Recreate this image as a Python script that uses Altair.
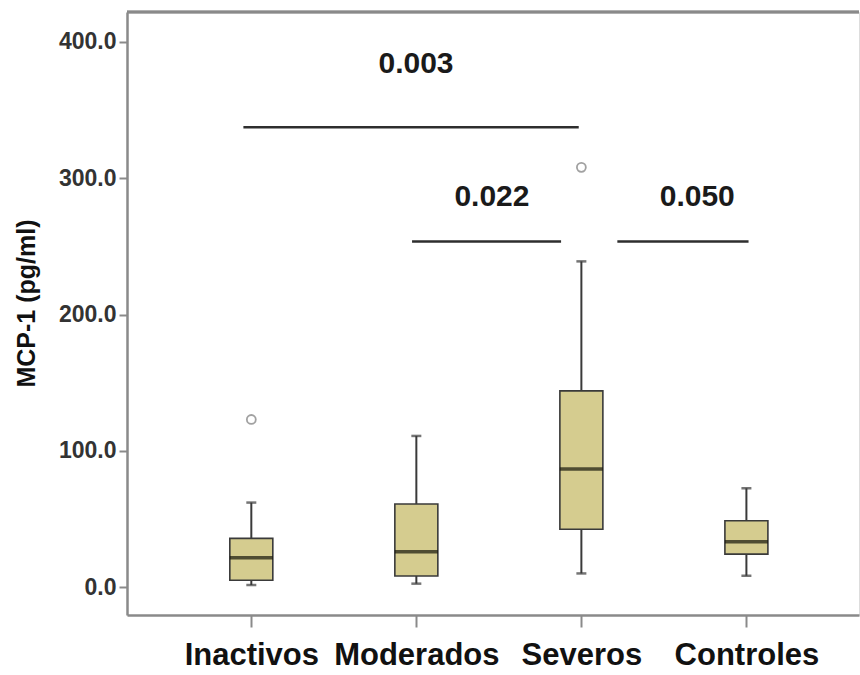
import altair as alt
import pandas as pd

# Box-plot summary per group (MCP-1, pg/ml)
categories = ["Inactivos", "Moderados", "Severos", "Controles"]
positions = [1, 2, 3, 4]
whisker_low = [1.5, 2.5, 10.0, 8.3]
q1 = [5.0, 8.1, 42.4, 24.2]
median = [21.5, 25.9, 86.6, 33.3]
q3 = [35.7, 61.0, 144.0, 48.7]
whisker_high = [62.0, 110.9, 239.0, 72.5]

# Outliers
outlier_pos = [1, 3]
outlier_val = [123.0, 308.0]

# Significance brackets
bracket_x1 = [0.952, 1.974, 3.218]
bracket_x2 = [2.984, 2.877, 4.013]
bracket_y = [337.5, 253.5, 253.5]
pvalue_text = ["0.003", "0.022", "0.050"]
pvalue_x = [1.998, 2.458, 3.702]
pvalue_y = [384.0, 286.0, 286.0]

y_ticks = [0, 100, 200, 300, 400]

W, H = 732, 603
FONT = "Liberation Sans"
BOX_FILL = "#d5cc8f"
EDGE = "#3a3a3a"
FRAME = "#8a8a8a"

boxes = pd.DataFrame({
    "pos": positions, "grupo": categories, "low": whisker_low, "q1": q1,
    "median": median, "q3": q3, "high": whisker_high,
})
outliers = pd.DataFrame({"pos": outlier_pos, "val": outlier_val})
brackets = pd.DataFrame({"x1": bracket_x1, "x2": bracket_x2, "y": bracket_y})
labels = pd.DataFrame({"x": pvalue_x, "y": pvalue_y, "t": pvalue_text})

label_expr = " : ".join(
    f"datum.value == {p} ? '{c}'" for p, c in zip(positions, categories)
) + " : ''"

x_scale = alt.Scale(domain=[0.277, 4.652], nice=False, zero=False)
y_scale = alt.Scale(domain=[-20.5, 422], nice=False, zero=False)

x_axis = alt.Axis(
    values=positions, labelExpr=label_expr, title=None, grid=False,
    labelFont=FONT, labelFontSize=31, labelFontWeight="bold", labelColor="#111",
    labelPadding=13, tickSize=12, tickColor=FRAME, tickWidth=2,
    domainColor=FRAME, domainWidth=2.5,
)
y_axis = alt.Axis(
    values=y_ticks, format=".1f", title="MCP-1 (pg/ml)", grid=False,
    labelFont=FONT, labelFontSize=23, labelFontWeight="bold", labelColor="#333",
    labelPadding=3, tickSize=8, tickColor=FRAME, tickWidth=2,
    domainColor=FRAME, domainWidth=2.5,
    titleFont=FONT, titleFontSize=25, titleFontWeight="bold", titleColor="#111",
    titleX=-93, titleY=291, titleAlign="center", titleBaseline="alphabetic",
    titleAngle=270,
)

base = alt.Chart(boxes)

lower_whisker = base.mark_rule(color=EDGE, strokeWidth=2).encode(
    x=alt.X("pos:Q", scale=x_scale, axis=x_axis),
    y=alt.Y("low:Q", scale=y_scale, axis=y_axis),
    y2="q1:Q",
)
upper_whisker = base.mark_rule(color=EDGE, strokeWidth=2).encode(
    x="pos:Q", y="q3:Q", y2="high:Q",
)
low_cap = base.mark_tick(orient="horizontal", size=10, thickness=2.5, color=EDGE).encode(
    x="pos:Q", y="low:Q",
)
high_cap = base.mark_tick(orient="horizontal", size=10, thickness=2.5, color=EDGE).encode(
    x="pos:Q", y="high:Q",
)
box = base.mark_bar(size=43, fill=BOX_FILL, stroke=EDGE, strokeWidth=1.6).encode(
    x="pos:Q", y="q1:Q", y2="q3:Q",
)
med = base.mark_tick(orient="horizontal", size=43, thickness=3.5, color="#15150a").encode(
    x="pos:Q", y="median:Q",
)

points = alt.Chart(outliers).mark_point(
    shape="circle", filled=False, size=80, stroke="#7a7a7a", strokeWidth=1.8,
).encode(x="pos:Q", y="val:Q")

bracket_lines = alt.Chart(brackets).mark_rule(color="#2e2e2e", strokeWidth=2.5).encode(
    x="x1:Q", x2="x2:Q", y="y:Q",
)
pvals = alt.Chart(labels).mark_text(
    font=FONT, fontSize=30, fontWeight="bold", color="#1a1a1a",
    align="center", baseline="middle",
).encode(x="x:Q", y="y:Q", text="t:N")

# top edge of the frame (the plot runs off the right side, so no right border)
top_edge = alt.Chart(boxes).mark_rule(color=FRAME, strokeWidth=2.5).encode(
    x=alt.value(0), x2=alt.value(W), y=alt.value(0),
)

chart = alt.layer(
    top_edge, lower_whisker, upper_whisker, low_cap, high_cap, box, med,
    points, bracket_lines, pvals,
).properties(
    width=W, height=H,
    autosize=alt.AutoSizeParams(type="none"),
    padding={"left": 127, "top": 12, "right": 1, "bottom": 60},
).configure_view(stroke=None).configure(background="white")

chart.save("out.html", embed_options={"renderer": "svg", "actions": False})
